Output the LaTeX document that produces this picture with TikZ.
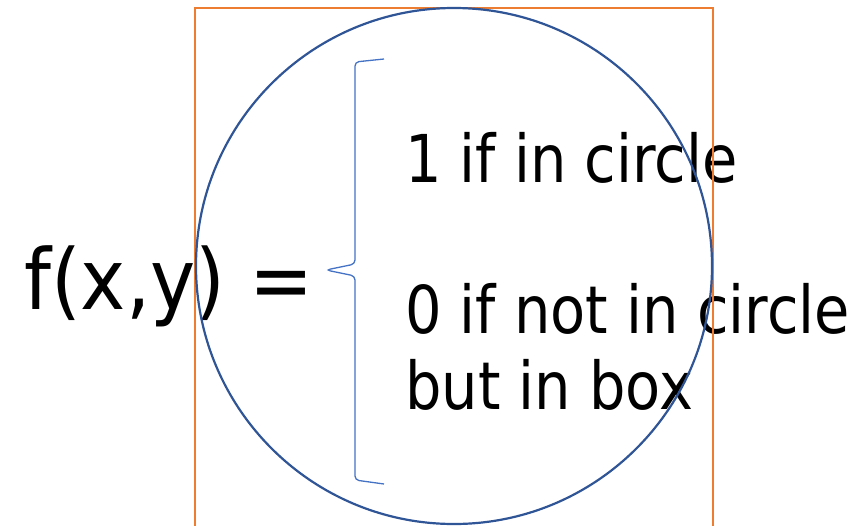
\documentclass[tikz,border=0pt]{standalone}
\usepackage{fontspec}
\usepackage{xcolor}
\usepackage{tikz}
\usetikzlibrary{positioning, calc}
\newfontfamily\slidefont{DejaVu Sans}[FakeStretch=0.87]
\newfontfamily\titlefont{DejaVu Sans}[FakeStretch=0.91]
\definecolor{boxorange}{RGB}{237, 125, 49}
\definecolor{circleblue}{RGB}{47, 85, 151}
\definecolor{braceblue}{RGB}{68, 114, 196}

\tikzset{
  bigtext/.style={inner sep=0pt, anchor=base west, font=\titlefont\fontsize{84}{84}\selectfont},
  casetext/.style={inner sep=0pt, anchor=base west, font=\slidefont\fontsize{66}{76}\selectfont},
}

\begin{document}
\begin{tikzpicture}[x=1pt, y=-1pt]
        \useasboundingbox (0,0) rectangle (856,525);

        % Function and its two cases
        \node[bigtext] (func) at (24,309) {f(x,y) =};
        \node[casetext] (inside) at (405,182) {1 if in circle};
        \node[casetext] (outside) at (405,333) {0 if not in circle};
        \node[casetext] (inbox) at (405,409) {but in box};

        % Box and circle
        \draw[boxorange, line width=2.2pt] (195,8) rectangle (713,528);
        \draw[circleblue, line width=2.2pt] (454,266) circle (258);

        % Left brace
        \draw[braceblue, line width=1.3pt, rounded corners=4pt]
          (384,59) -- (355,62) -- (355,264) -- (326,270) -- (355,276) -- (355,480) -- (384,484);
    \end{tikzpicture}
\end{document}
